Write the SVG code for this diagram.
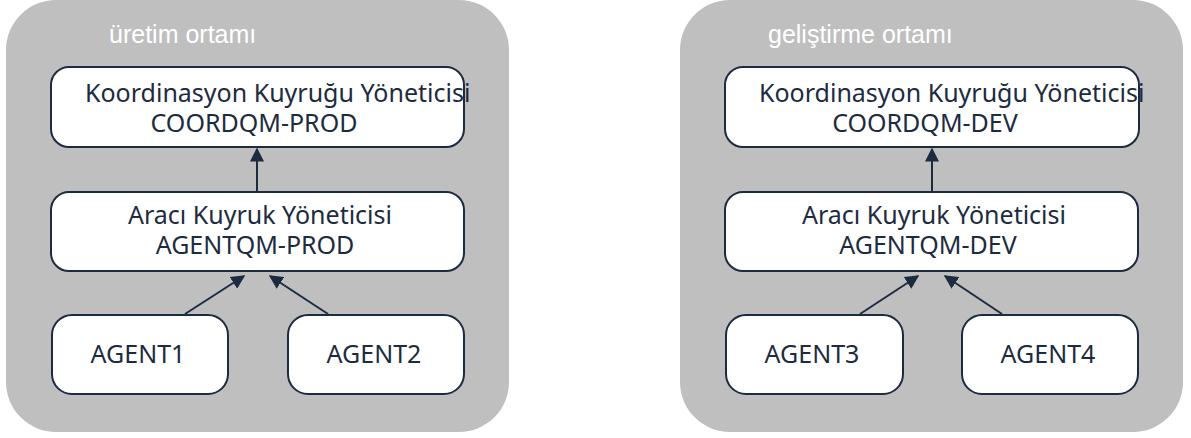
<svg xmlns="http://www.w3.org/2000/svg" width="1191" height="438" viewBox="0 0 1191 438">
<defs>
<style>
.env{fill:#bfbfbf;}
.title{fill:#ffffff;font-family:"Liberation Sans",Arial,sans-serif;font-size:25px;}
.box{fill:#ffffff;stroke:#1d2b40;stroke-width:2;}
.lbl{fill:#1d2b40;font-family:"Noto Sans","Open Sans",sans-serif;font-size:25px;}
.mid{text-anchor:middle;}
.conn{stroke:#1d2b40;stroke-width:2;fill:none;marker-end:url(#arr);}
</style>
<marker id="arr" viewBox="0 0 10 10" refX="9" refY="5" markerWidth="7" markerHeight="7" orient="auto" markerUnits="strokeWidth">
<path d="M0,0 L10,5 L0,10 z" fill="#1d2b40"/>
</marker>
</defs>
<rect x="0" y="0" width="1191" height="438" fill="#ffffff"/>

<g id="env-prod">
<rect class="env" x="6" y="0" width="503" height="432" rx="50" ry="50"/>
<text class="title" x="109" y="43">üretim ortamı</text>
</g>
<g id="env-dev">
<rect class="env" x="680" y="0" width="503" height="432" rx="50" ry="50"/>
<text class="title" x="768" y="43">geliştirme ortamı</text>
</g>

<g id="coordqm-prod">
<rect class="box" x="51" y="67" width="413" height="80" rx="18" ry="18"/>
<text class="lbl" x="85" y="102">Koordinasyon Kuyruğu Yöneticisi</text>
<text class="lbl mid" x="254" y="132">COORDQM-PROD</text>
</g>
<g id="agentqm-prod">
<rect class="box" x="51" y="192" width="413" height="79" rx="18" ry="18"/>
<text class="lbl mid" x="260" y="224">Aracı Kuyruk Yöneticisi</text>
<text class="lbl mid" x="255" y="254">AGENTQM-PROD</text>
</g>
<g id="agent1">
<rect class="box" x="52" y="315" width="176" height="79" rx="20" ry="20"/>
<text class="lbl mid" x="138" y="363">AGENT1</text>
</g>
<g id="agent2">
<rect class="box" x="288" y="315" width="176" height="79" rx="20" ry="20"/>
<text class="lbl mid" x="374" y="363">AGENT2</text>
</g>

<g id="coordqm-dev">
<rect class="box" x="725" y="67" width="414" height="80" rx="18" ry="18"/>
<text class="lbl" x="759" y="102">Koordinasyon Kuyruğu Yöneticisi</text>
<text class="lbl mid" x="925" y="132">COORDQM-DEV</text>
</g>
<g id="agentqm-dev">
<rect class="box" x="725" y="192" width="413" height="79" rx="18" ry="18"/>
<text class="lbl mid" x="934" y="224">Aracı Kuyruk Yöneticisi</text>
<text class="lbl mid" x="928" y="254">AGENTQM-DEV</text>
</g>
<g id="agent3">
<rect class="box" x="726" y="315" width="177" height="79" rx="20" ry="20"/>
<text class="lbl mid" x="812" y="363">AGENT3</text>
</g>
<g id="agent4">
<rect class="box" x="962" y="315" width="176" height="79" rx="20" ry="20"/>
<text class="lbl mid" x="1048" y="363">AGENT4</text>
</g>

<g id="connectors">
<line class="conn" x1="257" y1="192" x2="257" y2="149"/>
<line class="conn" x1="185" y1="314" x2="244" y2="276"/>
<line class="conn" x1="328" y1="314" x2="270" y2="276"/>
<line class="conn" x1="932" y1="192" x2="932" y2="149"/>
<line class="conn" x1="860" y1="314" x2="918" y2="276"/>
<line class="conn" x1="1002" y1="314" x2="945" y2="276"/>
</g>
</svg>
